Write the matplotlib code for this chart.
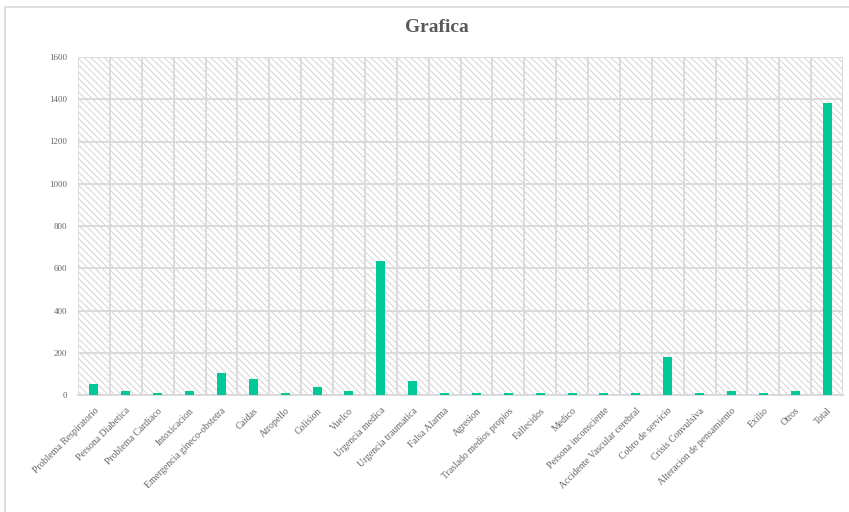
import numpy as np
import matplotlib.pyplot as plt
from matplotlib.patches import Rectangle

categorias = [
    'Problema Respiratorio', 'Persona Diabetica', 'Problema Cardiaco', 'Intoxicacion',
    'Emergencia gineco-obstetra', 'Caidas', 'Atropello', 'Colision', 'Vuelco',
    'Urgencia medica', 'Urgencia traumatica', 'Falsa Alarma', 'Agresion',
    'Traslado medios propios', 'Fallecidos', 'Medico', 'Persona inconsciente',
    'Accidente Vascular cerebral', 'Cobro de servicio', 'Crisis Convulsiva',
    'Alteracion de pensamiento', 'Exilio', 'Otros', 'Total',
]
valores = [50, 20, 10, 20, 105, 76, 10, 37, 20, 632, 67, 10, 10,
           10, 10, 10, 10, 10, 180, 10, 20, 10, 20, 1380]
yticks = [0, 200, 400, 600, 800, 1000, 1200, 1400, 1600]

plt.rcParams['font.family'] = ['Liberation Serif', 'DejaVu Serif']
plt.rcParams['hatch.linewidth'] = 0.7

fig = plt.figure(figsize=(8.49, 5.12), dpi=100)
ax = fig.add_axes([78 / 849, 1 - 395 / 512, (843 - 78) / 849, (395 - 57) / 512])

# borde del grafico
fig.patches.append(Rectangle((5 / 849, -0.1), 1.1, 1 - 7 / 512 + 0.1, transform=fig.transFigure,
                             fill=False, edgecolor='#d9d9d9', lw=1.2))

# fondo rayado
ax.add_patch(Rectangle((0, 0), 1, 1, transform=ax.transAxes, fill=False,
                       hatch='\\\\\\\\\\', edgecolor='#d4d4d4', lw=0, zorder=0))

x = np.arange(len(categorias))
ax.bar(x, valores, width=0.28, color='#00C896', zorder=3)

ax.set_xlim(-0.5, len(categorias) - 0.5)
ax.set_ylim(0, 1600)
ax.set_yticks(yticks)
ax.set_yticklabels([str(v) for v in yticks], fontsize=6.5, color='#666666')
ax.set_xticks(x)
ax.set_xticklabels(categorias, rotation=45, ha='right', rotation_mode='anchor',
                   fontsize=7, color='#666666')
ax.set_xticks(np.arange(-0.5, len(categorias)), minor=True)
ax.tick_params(axis='both', length=0, pad=8)
ax.tick_params(axis='x', which='minor', length=0)
ax.grid(axis='y', color='#d9d9d9', lw=1.3, zorder=1)
ax.grid(axis='x', which='minor', color='#d9d9d9', lw=1.3, zorder=1)
for s in ax.spines.values():
    s.set_visible(False)
ax.spines['bottom'].set_visible(True)
ax.spines['bottom'].set_color('#d9d9d9')
ax.spines['bottom'].set_linewidth(1.3)

fig.text(0.514, 1 - 28 / 512, 'Grafica', ha='center', va='center', fontsize=14,
         fontweight='bold', color='#595959')

fig.savefig('out.png', dpi=100)
